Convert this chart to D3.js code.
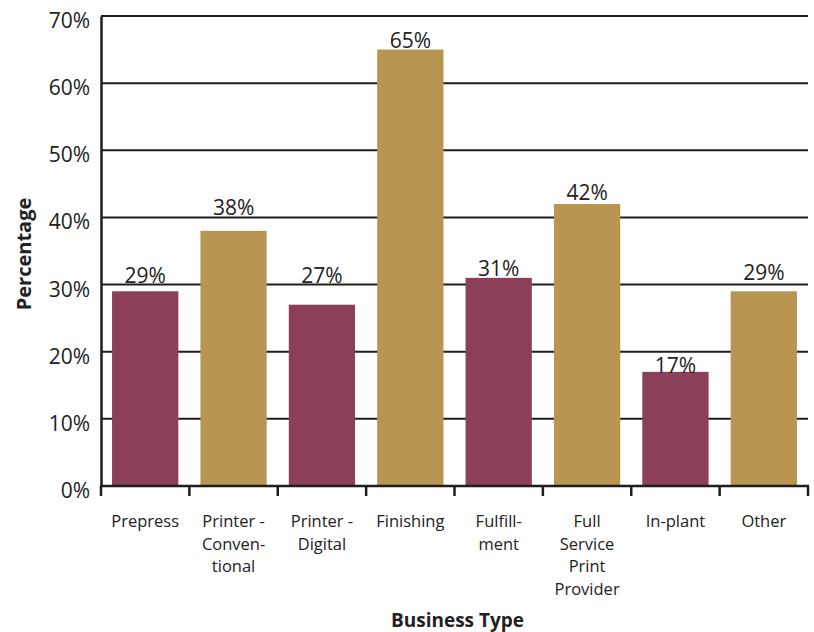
<!DOCTYPE html>
<html>
<head>
<meta charset="utf-8">
<script src="https://cdn.jsdelivr.net/npm/d3@7/dist/d3.min.js"></script>
<style>
  html, body { margin: 0; padding: 0; background: #fff; }
  svg { display: block; font-family: "Open Sans", Lato, sans-serif; }
</style>
</head>
<body>
<svg id="chart" width="814" height="632"></svg>
<script>
// Business types (multi-line labels) and share of respondents
const categories = [
  ["Prepress"],
  ["Printer -", "Conven-", "tional"],
  ["Printer -", "Digital"],
  ["Finishing"],
  ["Fulfill-", "ment"],
  ["Full", "Service", "Print", "Provider"],
  ["In-plant"],
  ["Other"]
];
const values = [29, 38, 27, 65, 31, 42, 17, 29];
const yTicks = [0, 10, 20, 30, 40, 50, 60, 70];

// presentation: bar fills alternate, value labels lifted by hand above each bar
const barColors = ["#8b3f59", "#b99552"];
const labelLift = [8, 16, 22, 2, 2, 4, -1, 11];

const svg = d3.select("#chart");
const margin = { left: 101, right: 6, top: 16, bottom: 146 };
const W = 814, H = 632;
const ink = "#222";

const keys = categories.map((c, i) => i);
const x = d3.scaleBand()
  .domain(keys)
  .range([margin.left, W - margin.right])
  .paddingInner(0.25)
  .paddingOuter(0.125);

const y = d3.scaleLinear()
  .domain([0, 70])
  .range([H - margin.bottom, margin.top]);

// horizontal gridlines (behind bars)
svg.append("g")
  .selectAll("line")
  .data(yTicks.filter(t => t > 0))
  .join("line")
  .attr("x1", margin.left)
  .attr("x2", W - margin.right)
  .attr("y1", d => y(d))
  .attr("y2", d => y(d))
  .attr("stroke", "#1e1e1e")
  .attr("stroke-width", 2);

// bars
svg.append("g")
  .selectAll("rect")
  .data(values)
  .join("rect")
  .attr("x", (d, i) => x(i))
  .attr("width", x.bandwidth())
  .attr("y", d => y(d))
  .attr("height", d => y(0) - y(d))
  .attr("fill", (d, i) => barColors[i % 2]);

// value labels
svg.append("g")
  .selectAll("text")
  .data(values)
  .join("text")
  .attr("x", (d, i) => x(i) + x.bandwidth() / 2)
  .attr("y", (d, i) => y(d) - labelLift[i])
  .attr("text-anchor", "middle")
  .attr("font-size", 21)
  .attr("fill", ink)
  .text(d => d + "%");

// y axis
const yAxis = svg.append("g")
  .attr("transform", `translate(${margin.left},0)`)
  .call(d3.axisLeft(y).tickValues(yTicks).tickFormat(d => d + "%").tickSize(0).tickPadding(11));
yAxis.select(".domain").attr("stroke", "#1e1e1e").attr("stroke-width", 2.5);
yAxis.selectAll("text")
  .attr("font-size", 21)
  .attr("font-family", "'Open Sans', Lato, sans-serif")
  .attr("dy", "0.55em")
  .attr("fill", ink);

// x axis baseline and boundary ticks
const step = x.step();
const bounds = d3.range(categories.length + 1).map(i => margin.left + i * step);
svg.append("line")
  .attr("x1", margin.left - 1)
  .attr("x2", W - margin.right + 1)
  .attr("y1", y(0))
  .attr("y2", y(0))
  .attr("stroke", "#1e1e1e")
  .attr("stroke-width", 2.5);
svg.append("g")
  .selectAll("line")
  .data(bounds)
  .join("line")
  .attr("x1", d => d)
  .attr("x2", d => d)
  .attr("y1", y(0))
  .attr("y2", y(0) + 10)
  .attr("stroke", "#1e1e1e")
  .attr("stroke-width", 2.5);

// category labels
const lab = svg.append("g")
  .selectAll("text")
  .data(categories)
  .join("text")
  .attr("text-anchor", "middle")
  .attr("font-size", 16.5)
  .attr("fill", ink)
  .attr("transform", (d, i) => `translate(${x(i) + x.bandwidth() / 2},${y(0) + 41})`);
lab.selectAll("tspan")
  .data(d => d)
  .join("tspan")
  .attr("x", 0)
  .attr("y", (d, j) => j * 22.5)
  .text(d => d);

// axis titles
svg.append("text")
  .attr("x", (margin.left + W - margin.right) / 2 + 3)
  .attr("y", 627)
  .attr("text-anchor", "middle")
  .attr("font-size", 19)
  .attr("font-weight", "bold")
  .attr("fill", ink)
  .text("Business Type");

svg.append("text")
  .attr("transform", `translate(31,${(y(0) + y(70)) / 2 + 3}) rotate(-90)`)
  .attr("text-anchor", "middle")
  .attr("font-size", 20)
  .attr("font-weight", "bold")
  .attr("fill", ink)
  .text("Percentage");
</script>
</body>
</html>
